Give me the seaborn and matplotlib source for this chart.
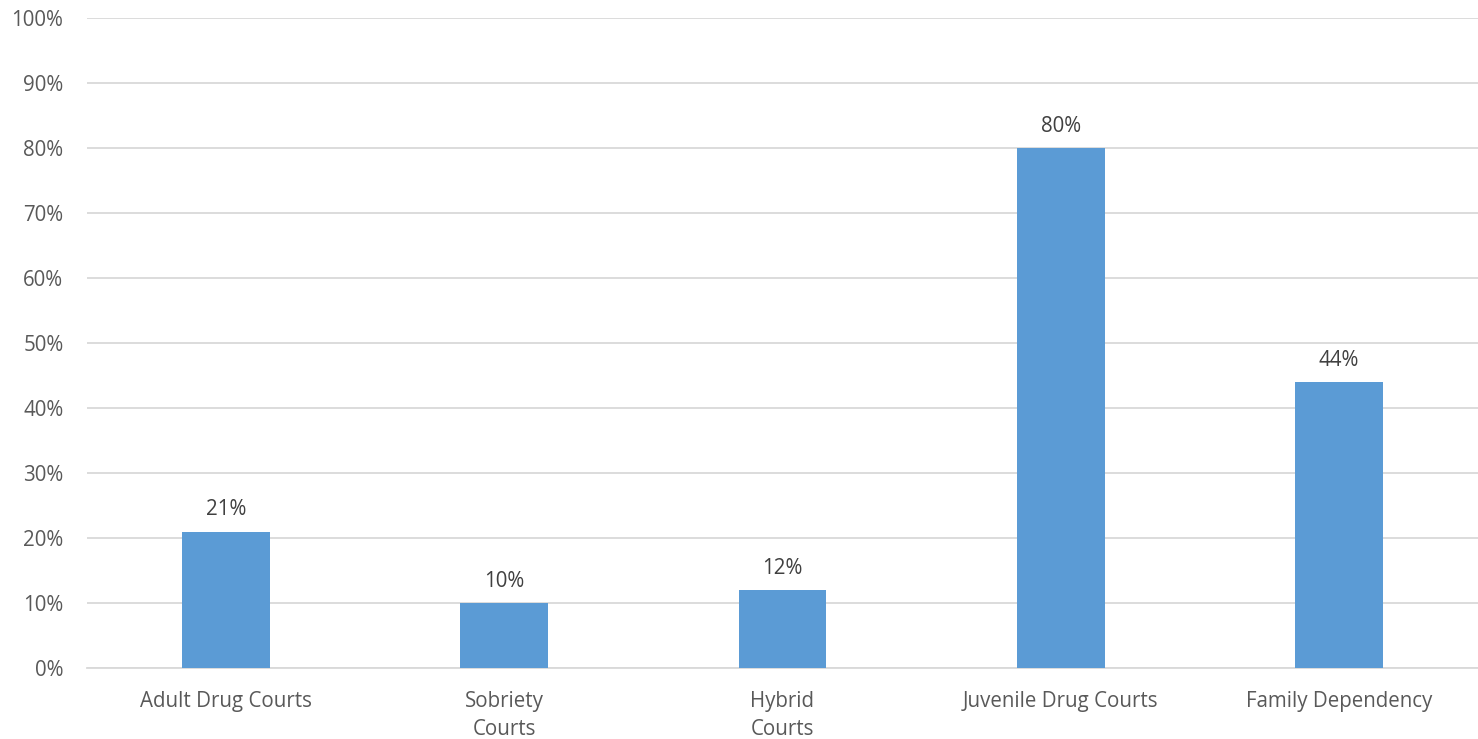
import matplotlib
matplotlib.use("Agg")
import matplotlib.pyplot as plt
import seaborn as sns
import pandas as pd
from matplotlib.ticker import PercentFormatter

# data
categories = ["Adult Drug Courts", "Sobriety\nCourts", "Hybrid\nCourts",
              "Juvenile Drug Courts", "Family Dependency"]
values = [21, 10, 12, 80, 44]

df = pd.DataFrame({"court": categories, "pct": values})

sns.set_style("white")
plt.rcParams["font.family"] = ["Open Sans", "DejaVu Sans"]

text_color = "#595959"
grid_color = "#D9D9D9"

fig = plt.figure(figsize=(14.78, 7.39), dpi=100)
ax = fig.add_axes([87 / 1478, 1 - 668 / 739, 1 - 87 / 1478, (668 - 18) / 739])

sns.barplot(data=df, x="court", y="pct", color="#5B9BD5", width=0.316,
            saturation=1, ax=ax, zorder=3, linewidth=0)

ax.set_ylim(0, 100)
ax.set_xlim(-0.5, 4.5)
ax.set_yticks(range(0, 101, 10))
ax.yaxis.set_major_formatter(PercentFormatter(decimals=0))
ax.grid(axis="y", color=grid_color, linewidth=1.3, zorder=0)
ax.set_axisbelow(True)
for s in ["top", "right", "left"]:
    ax.spines[s].set_visible(False)
ax.spines["bottom"].set_color(grid_color)
ax.spines["bottom"].set_linewidth(1.3)

ax.tick_params(axis="both", length=0, labelsize=14.8, labelcolor=text_color)
ax.tick_params(axis="x", pad=16.5)
ax.tick_params(axis="y", pad=17)
for lbl in ax.get_xticklabels():
    lbl.set_linespacing(1.45)
    lbl.set_va("top")
ax.set_xlabel("")
ax.set_ylabel("")

for i, v in enumerate(values):
    ax.annotate(f"{v}%", (i, v), xytext=(0, 8), textcoords="offset points",
                ha="center", va="bottom", fontsize=14.8, color="#404040")

fig.savefig("out.png", dpi=100)
